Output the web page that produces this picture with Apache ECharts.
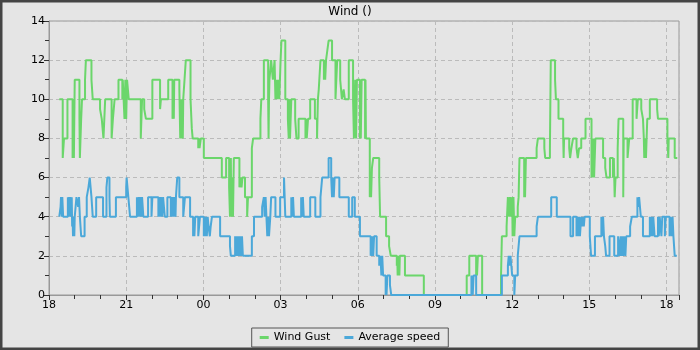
<!DOCTYPE html>
<html><head><meta charset="utf-8">
<script src="https://cdn.jsdelivr.net/npm/echarts@6/dist/echarts.min.js"></script>
<style>html,body{margin:0;padding:0;background:#e5e5e5}#c{width:700px;height:350px}</style>
</head><body><div id="c"></div>
<script>
// times are minutes after 18:00 (start of the axis); value holds until the next entry
const startHour = 18;
const xMaxMinutes = 1469;
const yTicks = [0, 2, 4, 6, 8, 10, 12, 14];
const seriesNames = ['Wind Gust', 'Average speed'];

const gust = [
[24,10],[32,7],[35,8],[43,10],[55,7],[57,10],[58,7],[60,11],[71,9],[72,7],[75,9],[77,10],[84,11],[86,12],[99,11],[102,10],
[119,9.5],[123,9],[127,8],[131,10],[146,8],[149,9],[153,10],[162,11],[171,10],[172,11],[176,9],[178,11],[180,9],[182,11],[186,10],
[214,8],[217,10],[222,9.5],[226,9],[241,11],[259,9.5],[261,10],[278,11],[288,9],[290,11],[291,9],[292,11],[304,10.5],[306,8],[308,10],
[309,8],[311,10],[312,8],[313,10],[316,11],[319,12],[330,10],[333,8.5],[335,8],[348,7.5],[350,8],[351,7.5],[354,8],[361,7],[403,6],
[413,7],[420,5.5],[422,4],[424,7],[425,4],[427,6],[429,4],[431,7],[444,5.5],[446,6],[449,5.5],[451,6],[457,5],[462,4],[464,5],[473,7.5],[476,8],
[493,9],[495,10],[501,12],[511,10],[512,8],[513,10],[514,11],[518,12],[522,11],[526,12],[528,10],[530,11],[532,10],[534,11],[537,10],[540,12],
[542,13],[551,10],[557,9],[559,8],[561,10],[562,8],[565,10],[574,9],[577,8],[582,9],[598,8],[600,9],[601,8],[604,9],[609,10],[620,9],[625,8],
[627,10],[629,10.5],[633,12],[641,11],[643,12],[644,11],[646,12],[649,12.5],[652,13],[660,12],[668,10],[672,12],[679,11],[683,10],[687,10.5],
[690,10],[699,12],[709,10],[711,8],[714,11],[716,8],[718,11],[725,8],[726,11],[727,8],[729,11],[737,8],[738,11],[739,8],
[748,5],[750,6],[751,5],[753,6.5],[756,7],[770,6],[772,4],[786,3],[793,2.5],[797,2],[811,1.5],[812,2],[813,1],[815,2],[817,1],[818,2],
[830,1],[874,0],[974,1],[980,2],[996,1],[997,2],[998,1],[1000,2],[1010,0],[1054,1],[1056,3],[1067,3.5],[1070,5],[1073,4],[1075,5],[1077,4],
[1080,5],[1081,3],[1083,5],[1085,3],[1087,4],[1093,4.5],[1095,5],[1097,7],[1108,5],[1109,7],[1110,5],[1112,7],[1137,7.5],[1140,8],[1155,7.5],
[1157,7],[1168,7.5],[1170,12],[1180,11],[1182,10],[1188,9],[1199,8],[1200,7],[1201,8],[1213,7.5],[1215,7],[1218,7.5],[1222,8],[1230,7.5],
[1233,7],[1236,7.5],[1241,8],[1251,9],[1265,6],[1266,8],[1267,6],[1270,8],[1271,6],[1274,8],[1292,7],[1297,6.5],[1300,6],[1308,7],[1315,6],
[1317,7],[1318,6],[1319,5],[1321,6],[1326,7.5],[1328,9],[1339,5],[1340,8],[1349,7],[1353,8],[1361,10],[1370,9],[1373,10],[1381,9.5],[1385,9],
[1387,8],[1388,7],[1390,8],[1392,7],[1395,9],[1401,10],[1418,9.5],[1420,9],[1442,8],[1444,7],[1445,8],[1459,7],[1465,7]
];

const avg = [
[24,4],[27,4.5],[28,5],[30,4],[31,5],[33,4],[44,5],[46,4],[47,5],[49,4],[50,5],[52,4],[53,5],[54,3.5],[55,4],[56,3],[58,4],[59,3],[60,4],
[64,5],[68,4.5],[70,5],[72,4],[75,3],[83,4],[88,5],[92,5.5],[95,6],[99,5],[102,4],[110,5],[126,4],[134,5.5],[136,6],[141,5],[142,4],[156,5],
[180,5.5],[181,6],[185,5],[189,4],[205,5],[207,4],[209,5],[211,4],[213,5],[215,4],[217,5],[220,4],[231,5],[239,4],[241,5],[255,4],[257,5],
[259,4],[261,5],[264,4],[266,5],[270,4],[276,5],[284,4],[285,5],[287,4],[289,5],[291,4],[293,5],[295,4],[296,5],[299,6],[304,5],[313,4],
[317,5],[329,4],[336,3],[338,4],[339,3],[341,4],[348,3],[352,4],[361,3],[363,4],[364,3],[366,4],[368,3],[370,4],[372,3.5],[375,3],[377,3.5],
[380,4],[399,3],[422,2.5],[424,2],[434,3],[436,2],[438,3],[440,2],[442,3],[444,2],[446,3],[448,2],[450,3],[452,2],[473,3],[478,4],[497,4.5],
[501,5],[503,4],[505,5],[507,4],[509,3],[511,4],[513,3],[516,4],[518,5],[528,4],[539,5],[548,6],[551,4],[565,5],[567,4],[569,5],[571,4],
[588,5],[590,4],[592,5],[594,4],[609,5],[621,4],[633,5],[637,6],[652,7],[658,6],[660,5],[662,6],[664,5],[666,6],[677,5],[699,4],[707,5],
[713,4],[725,3],[750,2],[751,3],[752,2],[754,3],[756,2],[758,3],[764,2],[770,1.5],[773,2],[775,1],[777,2],[779,1],[785,0],[786,1],[787,0],
[789,1],[795,0.5],[798,0],[985,1],[986,0],[987,1],[988,0],[990,1],[996,0],[1056,1],[1070,1.5],[1072,2],[1074,1.5],[1076,2],[1080,1],[1085,0],
[1087,1],[1093,2],[1097,3],[1137,3.5],[1140,4],[1171,5],[1184,4],[1216,3],[1222,4],[1230,3],[1232,4],[1234,3],[1236,4],[1238,3],[1241,4],
[1243,3.5],[1245,4],[1247,3.5],[1249,4],[1261,3],[1264,2],[1273,3],[1288,4],[1290,3],[1292,4],[1294,3],[1297,2.5],[1299,2],[1307,3],[1318,2],
[1327,3],[1331,2],[1333,3],[1335,2],[1337,3],[1339,2],[1341,3],[1344,2],[1346,3],[1355,3.5],[1359,4],[1372,5],[1374,4.5],[1376,5],[1380,4],
[1385,3],[1401,4],[1403,3],[1405,4],[1407,3],[1409,4],[1412,3],[1420,4],[1422,3],[1424,4],[1428,3],[1430,4],[1436,3],[1438,4],[1447,3],
[1449,4],[1452,3],[1454,4],[1456,3],[1459,2],[1464,2]
];

const font = 'DejaVu Sans';
const chart = echarts.init(document.getElementById('c'), null, {renderer: 'canvas'});
chart.setOption({
  backgroundColor: '#e5e5e5',
  animation: false,
  title: {text: 'Wind ()', left: 'center', top: 1, textStyle: {fontFamily: font, fontSize: 12, fontWeight: 'normal', color: '#000'}},
  graphic: [{type: 'rect', shape: {x: 1, y: 1, width: 698, height: 348}, style: {fill: 'none', stroke: '#444', lineWidth: 3}, z: 100}],
  legend: {
    bottom: 3, left: 'center', icon: 'rect', itemWidth: 9, itemHeight: 3, itemGap: 14,
    backgroundColor: '#e5e5e5', borderColor: '#555', borderWidth: 1, borderRadius: 0, padding: [4, 8, 4, 8],
    textStyle: {fontFamily: font, fontSize: 11, color: '#000'}
  },
  grid: {left: 49, right: 21, top: 21, bottom: 55, show: true, borderColor: '#999', borderWidth: 1, backgroundColor: 'transparent'},
  xAxis: {
    type: 'value', min: 0, max: xMaxMinutes, interval: 180,
    axisLine: {show: true, lineStyle: {color: '#999'}},
    axisTick: {show: true, length: 5, lineStyle: {color: '#333'}},
    minorTick: {show: true, splitNumber: 3, length: 4, lineStyle: {color: '#333'}},
    splitLine: {show: true, lineStyle: {color: '#bbb', type: [4, 3]}},
    axisLabel: {fontFamily: font, fontSize: 11, color: '#000', margin: 5,
      formatter: v => (v % 180 === 0) ? String((startHour + v / 60) % 24).padStart(2, '0') : ''}
  },
  yAxis: {
    type: 'value', min: yTicks[0], max: yTicks[yTicks.length - 1], interval: 2,
    axisLine: {show: true, lineStyle: {color: '#999'}},
    axisTick: {show: true, length: 5, lineStyle: {color: '#333'}},
    minorTick: {show: true, splitNumber: 2, length: 4, lineStyle: {color: '#333'}},
    splitLine: {show: true, lineStyle: {color: '#bbb', type: [4, 3]}},
    axisLabel: {fontFamily: font, fontSize: 11, color: '#000', margin: 4}
  },
  series: [
    {name: seriesNames[0], type: 'line', step: 'end', data: gust, showSymbol: false, lineStyle: {width: 2, color: '#6bd66b'}, itemStyle: {color: '#6bd66b'}},
    {name: seriesNames[1], type: 'line', step: 'end', data: avg, showSymbol: false, lineStyle: {width: 2, color: '#4ba8d9'}, itemStyle: {color: '#4ba8d9'}}
  ]
});
</script></body></html>
